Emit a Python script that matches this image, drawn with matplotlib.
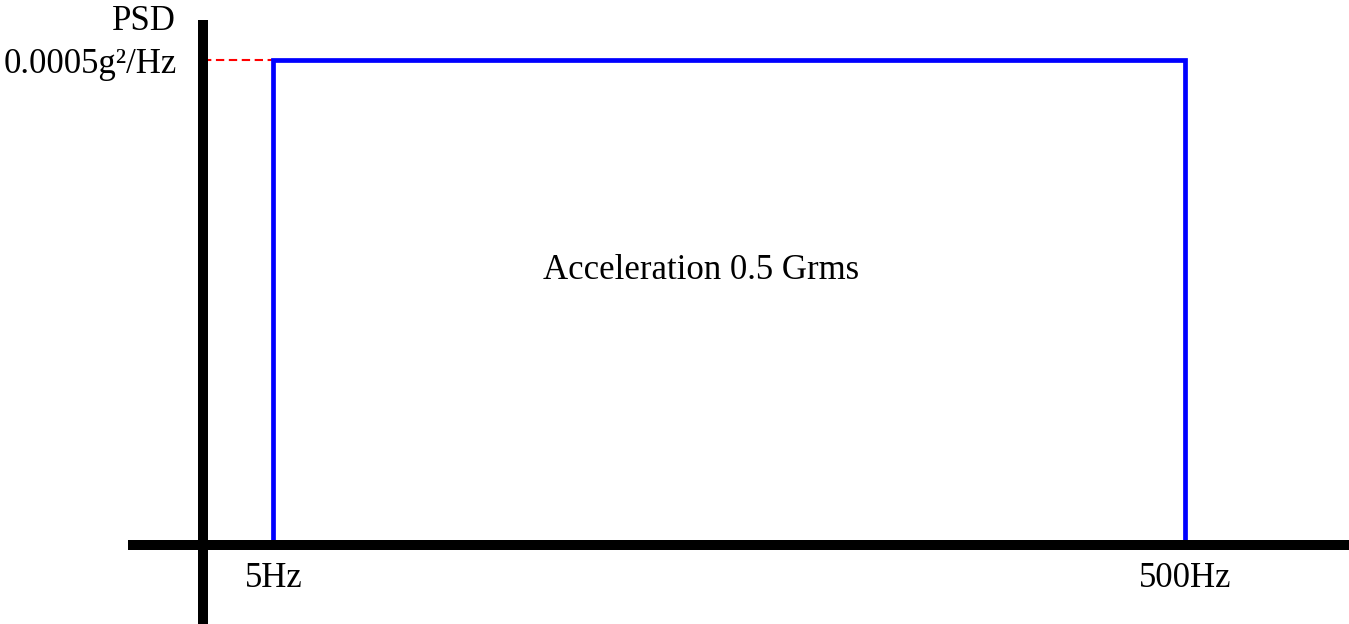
import numpy as np
import matplotlib
matplotlib.use("Agg")
import matplotlib.pyplot as plt

plt.rcParams['font.family'] = ['Liberation Serif', 'DejaVu Serif']

# flat random-vibration profile
band_freqs = [5, 500]          # Hz
psd_level = 0.0005             # g^2/Hz
origin_freq = 3.5              # where the schematic y axis sits
band_labels = ['5Hz', '500Hz']
psd_label = '0.0005g\u00b2/Hz'
title_text = 'Acceleration 0.5 Grms'

fig = plt.figure(figsize=(13.49, 6.24), dpi=100)
ax = fig.add_axes([0, 0, 1, 1])
ax.set_xscale('log')
ax.set_xlim(1.256, 1145)
ax.set_ylim(-8.14e-5, 5.624e-4)

# profile outline
ax.plot([band_freqs[0], band_freqs[0], band_freqs[1], band_freqs[1]],
        [0, psd_level, psd_level, 0],
        color='#0000ff', lw=3.4, solid_joinstyle='miter', zorder=2)
# dashed guide to the y axis
ax.hlines(psd_level, origin_freq, band_freqs[0], colors='red',
          linestyles=(0, (4, 2.2)), lw=1.5, zorder=1)

# thick cross-shaped axes
for side in ('top', 'right'):
    ax.spines[side].set_visible(False)
ax.spines['left'].set_position(('data', origin_freq))
ax.spines['bottom'].set_position(('data', 0))
for side in ('left', 'bottom'):
    ax.spines[side].set_linewidth(7.2)
    ax.spines[side].set_zorder(3)
    ax.spines[side].set_capstyle('butt')
ax.spines['left'].set_bounds(-8.14e-5, 5.42e-4)
ax.spines['bottom'].set_bounds(2.4, 1145)

ax.set_xticks(band_freqs, band_labels)
ax.xaxis.set_minor_locator(matplotlib.ticker.NullLocator())
ax.set_yticks([psd_level], [psd_label])
ax.tick_params(axis='x', length=0, pad=12, labelsize=25)
ax.tick_params(axis='y', length=0, pad=19, labelsize=25)

ax.text(0.13, 0.965, 'PSD', transform=ax.transAxes, ha='right', va='center',
        fontsize=25)
ax.text(0.52, 0.567, title_text, transform=ax.transAxes, ha='center',
        va='center', fontsize=25)

fig.savefig('out.png', dpi=100)
